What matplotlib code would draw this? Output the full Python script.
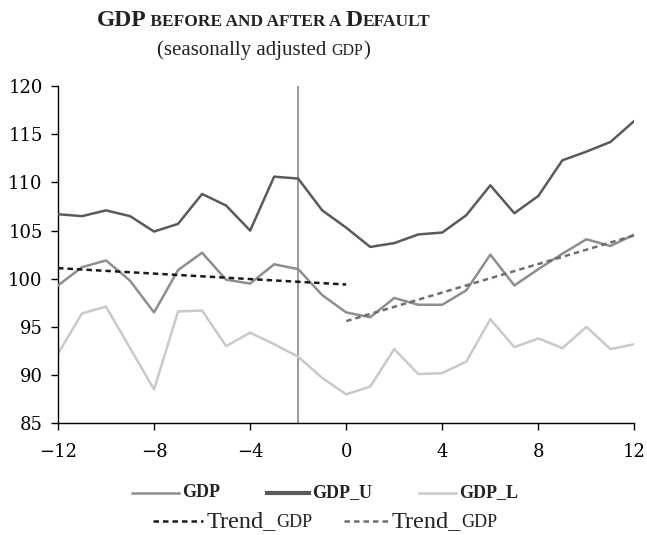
import matplotlib
matplotlib.use("Agg")
import matplotlib.pyplot as plt
from matplotlib.offsetbox import TextArea, HPacker, VPacker, DrawingArea, AnchoredOffsetbox
from matplotlib.lines import Line2D

quarters = list(range(-12, 13))
gdp = [99.3, 101.2, 101.9, 99.8, 96.5, 100.9, 102.7, 99.9, 99.5, 101.5, 101.0, 98.3,
       96.5, 96.0, 98.0, 97.3, 97.3, 98.8, 102.5, 99.3, 101.0, 102.6, 104.1, 103.4, 104.6]
gdp_u = [106.7, 106.5, 107.1, 106.5, 104.9, 105.7, 108.8, 107.6, 105.0, 110.6, 110.4, 107.1,
         105.3, 103.3, 103.7, 104.6, 104.8, 106.6, 109.7, 106.8, 108.6, 112.3, 113.2, 114.2, 116.4]
gdp_l = [92.2, 96.4, 97.1, 92.8, 88.5, 96.6, 96.7, 93.0, 94.4, 93.2, 91.9, 89.7,
         88.0, 88.8, 92.7, 90.1, 90.2, 91.4, 95.8, 92.9, 93.8, 92.8, 95.0, 92.7, 93.2]
trend_pre_x = [-12, 0]
trend_pre_y = [101.1, 99.4]
trend_post_x = [0, 12]
trend_post_y = [95.6, 104.5]
default_quarter = -2
yticks = [85, 90, 95, 100, 105, 110, 115, 120]
xticks = [-12, -8, -4, 0, 4, 8, 12]

C_GDP = "#8e8e8e"
C_U = "#5a5a5a"
C_L = "#c9c9c9"
C_T1 = "#1a1a1a"
C_T2 = "#6e6e6e"
SERIF = "Liberation Serif"
TICKF = "DejaVu Serif"

fig = plt.figure(figsize=(6.47, 5.35), dpi=100)
ax = fig.add_axes([0.0896, 0.209, 0.891, 0.630])

ax.plot(quarters, gdp, color=C_GDP, lw=1.8, zorder=3)
ax.plot(quarters, gdp_u, color=C_U, lw=1.8, zorder=3)
ax.plot(quarters, gdp_l, color=C_L, lw=1.8, zorder=2)
ax.plot(trend_pre_x, trend_pre_y, color=C_T1, lw=1.8, ls=(0, (2.2, 1.6)), zorder=4)
ax.plot(trend_post_x, trend_post_y, color=C_T2, lw=1.8, ls=(0, (2.2, 1.6)), zorder=4)
ax.axvline(default_quarter, color="#808080", lw=1.1, zorder=1)

ax.set_xlim(-12, 12)
ax.set_ylim(85, 120)
ax.set_xticks(xticks)
ax.set_yticks(yticks)
ax.set_xticklabels(["\u2212" + str(-t) if t < 0 else str(t) for t in xticks])
for s in ["top", "right"]:
    ax.spines[s].set_visible(False)
for s in ["left", "bottom"]:
    ax.spines[s].set_linewidth(1.0)
ax.tick_params(direction="out", length=5, width=1.0, labelsize=13, pad=6)
ax.tick_params(axis="x", pad=9)
for lab in ax.get_xticklabels() + ax.get_yticklabels():
    lab.set_fontfamily(TICKF)


def rich(pieces, weight="normal"):
    boxes = []
    for p in pieces:
        t, s = p[0], p[1]
        w = p[2] if len(p) > 2 else weight
        boxes.append(TextArea(t, textprops=dict(fontsize=s, family=SERIF, fontweight=w,
                                                color="#222222")))
    return HPacker(children=boxes, align="baseline", pad=0, sep=0)


title = rich([("GDP", 17), (" BEFORE AND AFTER A ", 12.5), ("D", 17), ("EFAULT", 12.5)], weight="bold")
sub = rich([("(seasonally adjusted ", 15), ("GDP", 11.5), (")", 15)])
head = VPacker(children=[title, sub], align="center", pad=0, sep=7)
fig.add_artist(AnchoredOffsetbox(loc="upper center", child=head, bbox_to_anchor=(0.407, 0.982),
                                 bbox_transform=fig.transFigure, frameon=False, pad=0, borderpad=0))

PX = 72.0 / 100.0  # points per pixel


def entry(color, lw, ls, pieces, width_px):
    w = width_px * PX
    da = DrawingArea(w, 8, 0, 0)
    da.add_artist(Line2D([0, w], [4, 4], color=color, lw=lw, ls=ls))
    return HPacker(children=[da, rich(pieces)], align="center", pad=0, sep=3 * PX)


row1 = HPacker(children=[
    entry(C_GDP, 1.8, "-", [("GDP", 13, "bold")], 47),
    entry(C_U, 3.0, "-", [("GDP_U", 13, "bold")], 42),
    entry(C_L, 1.8, "-", [("GDP_L", 13, "bold")], 37),
], align="center", pad=0, sep=47 * PX)
row2 = HPacker(children=[
    entry(C_T1, 1.8, (0, (2.2, 1.6)), [("Trend_", 17.5), ("GDP", 13)], 50),
    entry(C_T2, 1.8, (0, (2.2, 1.6)), [("Trend_", 17.5), ("GDP", 13)], 45),
], align="center", pad=0, sep=32 * PX)
leg = VPacker(children=[row1, row2], align="center", pad=0, sep=7)
fig.add_artist(AnchoredOffsetbox(loc="lower center", child=leg, bbox_to_anchor=(0.503, 0.006),
                                 bbox_transform=fig.transFigure, frameon=False, pad=0, borderpad=0))

fig.savefig("out.png", dpi=100)
